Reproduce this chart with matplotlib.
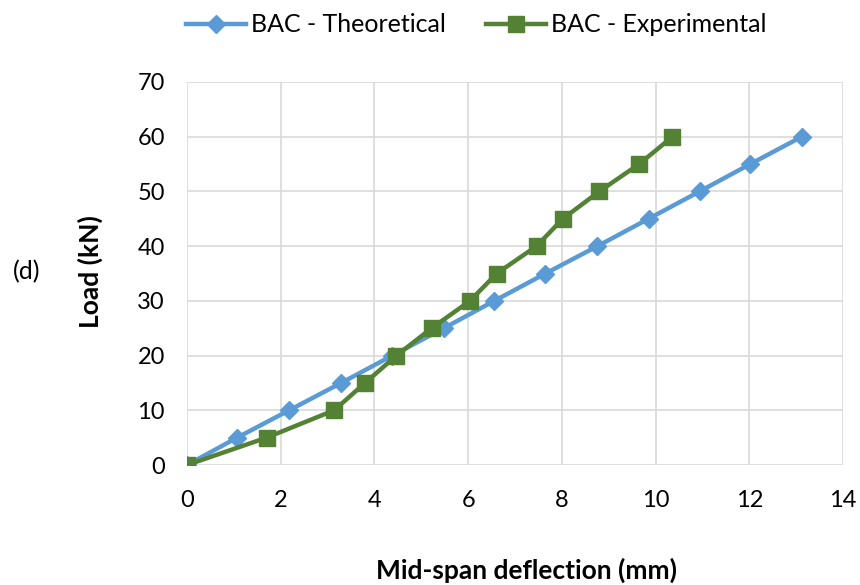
import matplotlib
matplotlib.use("Agg")
import matplotlib.pyplot as plt

theo_x = [0, 1.07, 2.18, 3.29, 4.38, 5.48, 6.56, 7.65, 8.76, 9.85, 10.94, 12.02, 13.12]
theo_y = [0, 5, 10, 15, 20, 25, 30, 35, 40, 45, 50, 55, 60]
exp_x = [0, 1.70, 3.14, 3.80, 4.47, 5.22, 6.04, 6.61, 7.46, 8.02, 8.80, 9.65, 10.36]
exp_y = [0, 5, 10, 15, 20, 25, 30, 35, 40, 45, 50, 55, 60]
x_ticks = [0, 2, 4, 6, 8, 10, 12, 14]
y_ticks = [0, 10, 20, 30, 40, 50, 60, 70]

plt.rcParams['font.family'] = ['Lato', 'DejaVu Sans']

fig = plt.figure(figsize=(8.6, 5.85), dpi=100)
ax = fig.add_axes([187/860, 1-465/585, (843-187)/860, (465-82)/585])

ax.plot(theo_x, theo_y, color='#5B9BD5', lw=3.2, marker='D', ms=9,
        label='BAC - Theoretical', zorder=3)
ax.plot(exp_x, exp_y, color='#548235', lw=3.2, marker='s', ms=11,
        label='BAC - Experimental', zorder=4)

ax.set_xlim(0, 14)
ax.set_ylim(0, 70)
ax.set_xticks(x_ticks)
ax.set_yticks(y_ticks)
ax.grid(True, color='#d9d9d9', lw=1.2)
ax.set_axisbelow(True)
for s in ax.spines.values():
    s.set_visible(False)
ax.tick_params(length=0, labelsize=17, colors='#000000')
ax.tick_params(axis='x', pad=18)
ax.tick_params(axis='y', pad=16)

fig.text(90/860, 1-272/585, 'Load (kN)', rotation=90, ha='center', va='center',
         fontsize=19, fontweight='bold')
fig.text(527/860, 1-570/585, 'Mid-span deflection (mm)', ha='center', va='center',
         fontsize=19, fontweight='bold')
fig.text(27/860, 1-272/585, '(d)', ha='center', va='center', fontsize=18)

fig.legend(loc='center', bbox_to_anchor=(476/860, 1-25/585), ncol=2, frameon=False,
           fontsize=18, handlelength=2.4, columnspacing=1.6, handletextpad=0.2)

fig.savefig('out.png', dpi=100)
